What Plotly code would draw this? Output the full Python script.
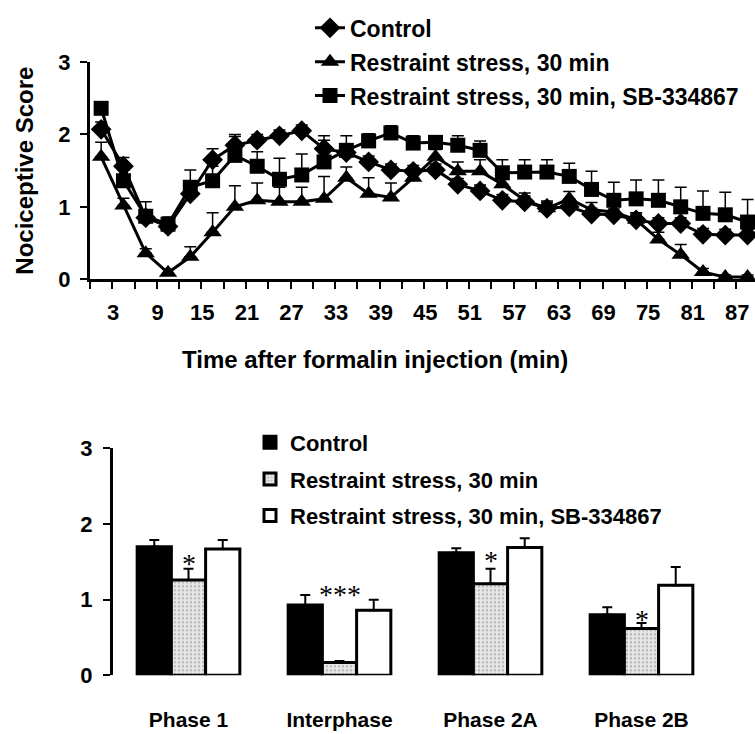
import plotly.graph_objects as go

# ---------------- data: time course ----------------
minutes = [3, 6, 9, 12, 15, 18, 21, 24, 27, 30, 33, 36, 39, 42, 45,
           48, 51, 54, 57, 60, 63, 66, 69, 72, 75, 78, 81, 84, 87, 90]
tick_minutes = [3, 9, 15, 21, 27, 33, 39, 45, 51, 57, 63, 69, 75, 81, 87]

control = [2.07, 1.56, 0.85, 0.73, 1.18, 1.65, 1.85, 1.92, 1.98, 2.05,
           1.80, 1.75, 1.62, 1.51, 1.49, 1.51, 1.31, 1.22, 1.09, 1.07,
           0.98, 1.00, 0.90, 0.89, 0.82, 0.77, 0.77, 0.62, 0.61, 0.61]
control_err = [0.10, 0.12, 0.10, 0.08, 0.12, 0.15, 0.12, 0.08, 0.08, 0.08,
               0.12, 0.10, 0.08, 0.08, 0.08, 0.08, 0.08, 0.08, 0.08, 0.08,
               0.08, 0.08, 0.08, 0.08, 0.08, 0.08, 0.08, 0.08, 0.08, 0.08]

restraint = [1.69, 1.02, 0.36, 0.09, 0.31, 0.65, 1.00, 1.09, 1.07, 1.07,
             1.11, 1.40, 1.18, 1.13, 1.40, 1.69, 1.49, 1.49, 1.31, 1.09,
             0.98, 1.11, 0.96, 0.93, 0.82, 0.55, 0.34, 0.10, 0.03, 0.03]
restraint_err = [0.20, 0.10, 0.06, 0.05, 0.14, 0.27, 0.29, 0.24, 0.20, 0.20,
                 0.31, 0.15, 0.22, 0.20, 0.12, 0.10, 0.13, 0.16, 0.12, 0.10,
                 0.10, 0.10, 0.10, 0.10, 0.10, 0.10, 0.14, 0.05, 0.03, 0.03]

sb = [2.36, 1.36, 0.87, 0.76, 1.27, 1.36, 1.71, 1.56, 1.38, 1.44,
      1.62, 1.78, 1.91, 2.02, 1.88, 1.89, 1.85, 1.78, 1.47, 1.48,
      1.48, 1.42, 1.24, 1.09, 1.11, 1.09, 1.00, 0.91, 0.89, 0.79]
sb_err = [0.05, 0.15, 0.20, 0.10, 0.24, 0.20, 0.29, 0.20, 0.29, 0.29,
          0.36, 0.20, 0.10, 0.10, 0.10, 0.09, 0.13, 0.13, 0.18, 0.17,
          0.17, 0.18, 0.25, 0.25, 0.26, 0.28, 0.27, 0.31, 0.31, 0.31]

# ---------------- data: phases ----------------
phases = ["Phase 1", "Interphase", "Phase 2A", "Phase 2B"]
bar_control = [1.70, 0.93, 1.62, 0.80]
bar_control_err = [0.09, 0.13, 0.06, 0.10]
bar_restraint = [1.26, 0.17, 1.21, 0.62]
bar_restraint_err = [0.15, 0.02, 0.20, 0.07]
bar_sb = [1.67, 0.86, 1.69, 1.19]
bar_sb_err = [0.12, 0.14, 0.12, 0.24]
significance = ["*", "***", "*", "*"]
significance_y = [1.55, 1.13, 1.58, 0.80]

names = ["Control", "Restraint stress, 30 min", "Restraint stress, 30 min, SB-334867"]
W, H = 755, 734
FONT = "Liberation Sans, Arial, sans-serif"

fig = go.Figure()

def err(arr):
    return dict(type="data", array=arr, arrayminus=[0] * len(arr), symmetric=False,
                color="black", thickness=1.5, width=6)

for name, vals, e, sym, size in [
    (names[0], control, control_err, "diamond", 16),
    (names[1], restraint, restraint_err, "triangle-up", 16),
    (names[2], sb, sb_err, "square", 15),
]:
    fig.add_trace(go.Scatter(
        x=minutes, y=vals, name=name, mode="lines+markers",
        line=dict(color="black", width=3),
        marker=dict(symbol=sym, size=size, color="black"),
        error_y=err(e), cliponaxis=False,
        xaxis="x", yaxis="y", legend="legend", legendgroup=name,
    ))

bar_specs = [
    (names[0], bar_control, bar_control_err, dict(color="black", line=dict(color="black", width=3))),
    (names[1], bar_restraint, bar_restraint_err,
     dict(color="#e4e4e4", line=dict(color="black", width=3),
          pattern=dict(shape=".", fgcolor="#8a8a8a", bgcolor="#e8e8e8", size=4, solidity=0.3))),
    (names[2], bar_sb, bar_sb_err, dict(color="white", line=dict(color="black", width=3))),
]
for name, vals, e, mk in bar_specs:
    fig.add_trace(go.Bar(
        x=phases, y=vals, name=name, marker=mk,
        error_y=dict(type="data", array=e, arrayminus=[0] * len(e), symmetric=False,
                     color="black", thickness=2, width=5),
        xaxis="x2", yaxis="y2", legend="legend2", legendgroup="b" + name,
    ))

for ph, sy, s in zip(phases, significance_y, significance):
    fig.add_annotation(x=ph, y=sy, xref="x2", yref="y2", text=s, showarrow=False,
                       yanchor="middle", yshift=-5,
                       font=dict(family="Liberation Serif, Times New Roman, serif", size=28,
                                 color="black", weight="normal"))

fig.add_annotation(text="Time after formalin injection (min)", xref="paper", yref="paper",
                   x=375 / W, y=1 - 360 / H, showarrow=False, yanchor="middle",
                   font=dict(size=24))

axis_common = dict(showgrid=False, zeroline=False, showline=True, linecolor="black",
                   linewidth=3, tickcolor="black", tickwidth=2,
                   tickfont=dict(size=22, color="black"))

fig.update_layout(
    width=W, height=H,
    margin=dict(l=0, r=0, t=0, b=0),
    paper_bgcolor="white", plot_bgcolor="white",
    font=dict(family=FONT, size=20, color="black", weight="bold"),
    bargap=0.32, bargroupgap=0,
    xaxis=dict(**axis_common, domain=[90 / W, 1], range=[1.5, 91.0], anchor="y",
               tickmode="array", tickvals=tick_minutes, ticks="", ticklabelshift=12,
               ticklabelstandoff=11,
               minor=dict(ticks="outside", tickmode="linear", tick0=1.5, dtick=3,
                          ticklen=7, tickwidth=2, tickcolor="black")),
    yaxis=dict(**axis_common, domain=[1 - 276.7 / H, 1 - 51.7 / H], range=[0, 3],
               anchor="x", tickvals=[0, 1, 2, 3], ticks="outside", ticklen=7,
               ticklabelstandoff=5,
               title=dict(text="Nociceptive Score", font=dict(size=24), standoff=18)),
    xaxis2=dict(showgrid=False, zeroline=False, showline=False, domain=[113 / W, 717 / W],
                range=[-0.5, 3.5], anchor="y2", ticks="", ticklabelstandoff=30,
                tickfont=dict(size=21, color="black")),
    yaxis2=dict(**axis_common, domain=[1 - 686.7 / H, 1 - 451.7 / H], range=[0, 3],
                anchor="x2", tickvals=[0, 1, 2, 3], ticks="outside", ticklen=7,
                ticklabelstandoff=6),
    legend=dict(x=310 / W, y=1.008, xanchor="left", yanchor="top", bgcolor="rgba(0,0,0,0)",
                font=dict(size=23), tracegroupgap=1, traceorder="grouped"),
    legend2=dict(x=250 / W, y=1 - 424 / H, xanchor="left", yanchor="top",
                 bgcolor="rgba(0,0,0,0)", font=dict(size=22), tracegroupgap=5,
                 traceorder="grouped", itemwidth=30),
    showlegend=True,
)

fig.write_html("out.html", config={"displayModeBar": False},
               post_script="document.body.style.margin='0';document.body.style.overflow='hidden';")
